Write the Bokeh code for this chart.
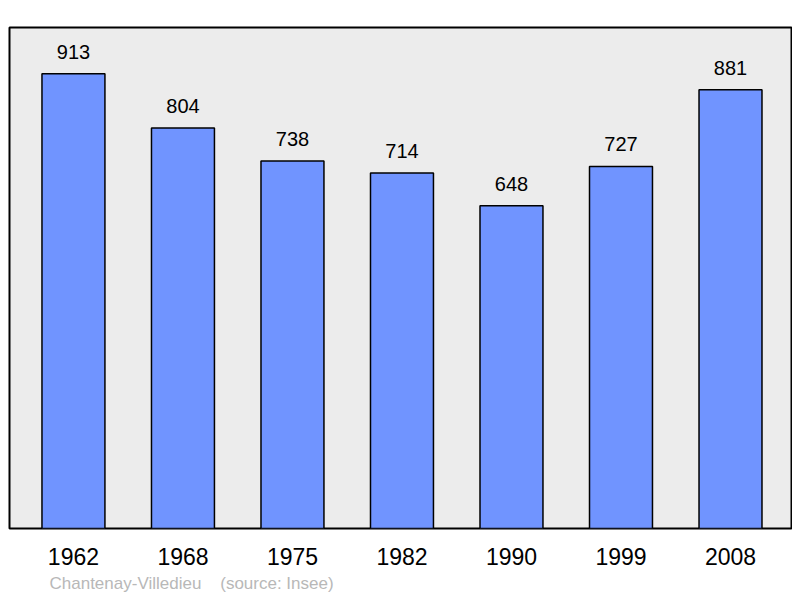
from bokeh.plotting import figure
from bokeh.models import ColumnDataSource, FixedTicker, Range1d, Title
from bokeh.core.properties import value
from bokeh.embed import file_html
from bokeh.resources import INLINE

years = ["1962", "1968", "1975", "1982", "1990", "1999", "2008"]
population = [913, 804, 738, 714, 648, 727, 881]
footer = "Chantenay-Villedieu\u00a0\u00a0\u00a0\u00a0(source: Insee)"

FONT = "Liberation Sans"

idx = list(range(len(years)))
src = ColumnDataSource(dict(x=idx, top=population, label=[str(v) for v in population]))

p = figure(width=792, height=598, output_backend="svg", toolbar_location=None,
           x_range=Range1d(-0.584, 6.557), y_range=Range1d(0, 1006),
           min_border_left=9, min_border_right=1, min_border_top=27, min_border_bottom=70)

p.background_fill_color = "#ececec"
p.border_fill_color = "white"
p.outline_line_color = "black"
p.outline_line_width = 2
p.grid.visible = False
p.yaxis.visible = False

p.vbar(x="x", top="top", width=0.575, source=src,
       fill_color="#7094ff", line_color="black", line_width=1.5)
p.text(x="x", y="top", text="label", source=src, y_offset=-15,
       text_align="center", text_baseline="bottom",
       text_font=value(FONT), text_font_size="20px", text_color="black")

xa = p.xaxis[0]
xa.ticker = FixedTicker(ticks=idx)
xa.major_label_overrides = {i: y for i, y in zip(idx, years)}
xa.axis_line_color = None
xa.major_tick_line_color = None
xa.minor_tick_line_color = None
xa.major_tick_out = 0
xa.major_label_standoff = 19
xa.major_label_text_font = FONT
xa.major_label_text_font_size = "23px"
xa.major_label_text_color = "black"

p.add_layout(Title(text=footer, align="left", offset=40, standoff=9,
                   text_font=FONT, text_font_size="17px", text_font_style="normal",
                   text_color="#b8b8b8"), "below")

open("out.html", "w").write(file_html(p, INLINE))
